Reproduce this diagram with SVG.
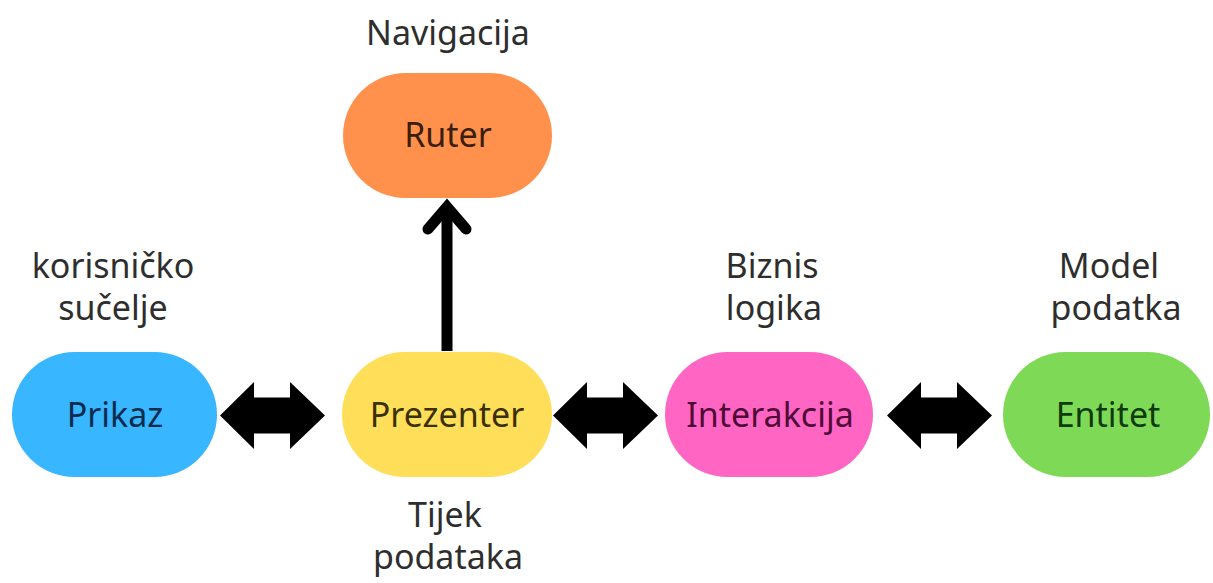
<svg xmlns="http://www.w3.org/2000/svg" width="1213" height="583" viewBox="0 0 1213 583">
<style>
text{font-family:"Noto Sans","Open Sans","Liberation Sans",sans-serif;font-size:34px;text-anchor:middle}
.lbl{fill:#2e2e2e}
.dbl{fill:#000}
</style>
<rect width="1213" height="583" fill="#fff"/>
<g id="connectors">
<path class="dbl" d="M220,415.5 L254,382 L254,397.5 L290,397.5 L290,382 L325,415.5 L290,449 L290,433.5 L254,433.5 L254,449 Z"/>
<path class="dbl" d="M553,415.5 L587,382 L587,397.5 L623,397.5 L623,382 L658,415.5 L623,449 L623,433.5 L587,433.5 L587,449 Z"/>
<path class="dbl" d="M887,415.5 L921,382 L921,397.5 L957,397.5 L957,382 L992,415.5 L957,449 L957,433.5 L921,433.5 L921,449 Z"/>
<line x1="447" y1="351" x2="447" y2="207" stroke="#000" stroke-width="11"/>
<polyline points="428,229 447,207 466,229" fill="none" stroke="#000" stroke-width="11" stroke-linecap="round" stroke-linejoin="miter"/>
</g>
<g id="ruter">
<rect x="343" y="73" width="209" height="125" rx="62.5" fill="#FF914D"/>
<text x="448" y="147" fill="#3b1e0c">Ruter</text>
<text class="lbl" x="448" y="45">Navigacija</text>
</g>
<g id="prikaz">
<rect x="12" y="352" width="205" height="125" rx="62.5" fill="#38B6FF"/>
<text x="115" y="427" fill="#0b2c4d">Prikaz</text>
<text class="lbl" x="113" y="278">korisničko</text>
<text class="lbl" x="113" y="320">sučelje</text>
</g>
<g id="prezenter">
<rect x="342" y="352" width="210" height="125" rx="62.5" fill="#FFDE59"/>
<text x="447" y="427" fill="#3a3008">Prezenter</text>
<text class="lbl" x="445" y="527">Tijek</text>
<text class="lbl" x="448" y="569">podataka</text>
</g>
<g id="interakcija">
<rect x="665" y="352" width="208" height="125" rx="62.5" fill="#FF66C4"/>
<text x="770" y="427" fill="#4f0a37">Interakcija</text>
<text class="lbl" x="772" y="278">Biznis</text>
<text class="lbl" x="774" y="320">logika</text>
</g>
<g id="entitet">
<rect x="1003" y="352" width="207" height="125" rx="62.5" fill="#7ED957"/>
<text x="1108" y="427" fill="#0f3a0c">Entitet</text>
<text class="lbl" x="1109" y="278">Model</text>
<text class="lbl" x="1116" y="320">podatka</text>
</g>
</svg>
